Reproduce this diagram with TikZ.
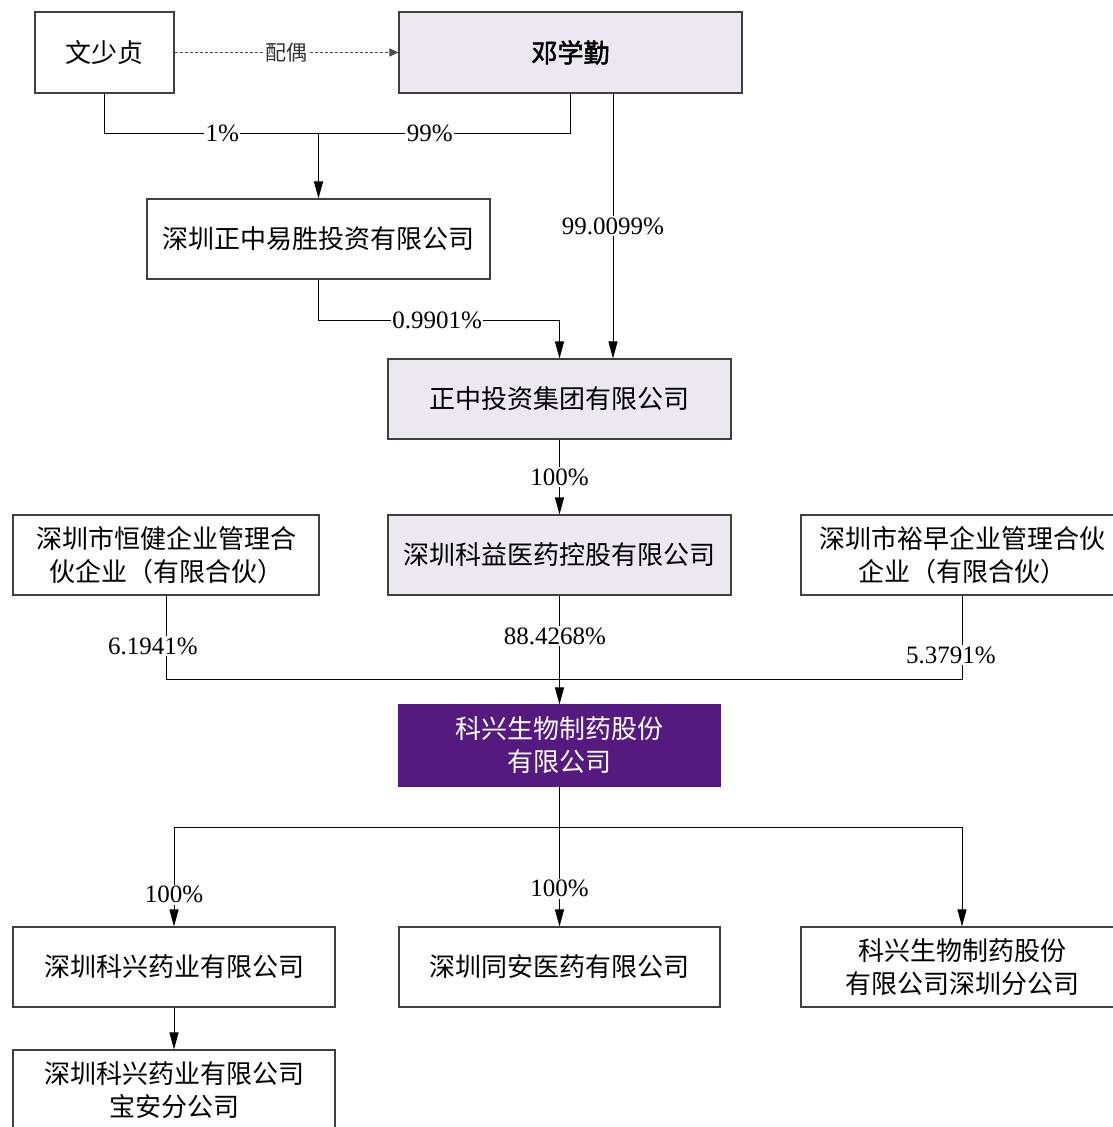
\documentclass[tikz,border=0pt]{standalone}
\usepackage{fontspec}
\setmainfont{Liberation Serif}
\newfontfamily\cjk[AutoFakeBold=2]{Noto Sans CJK SC}
\usetikzlibrary{arrows.meta}
\definecolor{boxgray}{RGB}{235,232,239}
\definecolor{kxpurple}{RGB}{85,26,128}
\tikzset{
  box/.style={draw=black!75, line width=1.1pt, fill=white, align=center,
    font=\cjk\fontsize{26}{33}\selectfont, inner sep=0pt},
  conn/.style={draw=black, line width=1pt},
  arr/.style={conn, -{Triangle[length=17pt,width=9pt]}},
  lbl/.style={fill=white, inner sep=1.5pt, font=\fontsize{25}{28}\selectfont},
  spouse/.style={draw=black!70, line width=0.9pt, dash pattern=on 3pt off 2pt,
    -{Triangle[length=9pt,width=8pt]}}
}
\begin{document}
\begin{tikzpicture}[x=1pt,y=-1pt]
\useasboundingbox (0,0) rectangle (1113,1127);
% nodes
\node[box, minimum width=139pt, minimum height=81pt] (wsz) at (104.5,52.5) {文少贞};
\node[box, fill=boxgray, minimum width=343pt, minimum height=81pt] (dxq) at (570.5,52.5) {\bfseries 邓学勤};
\node[box, minimum width=343pt, minimum height=80pt] (zzys) at (318.5,239) {深圳正中易胜投资有限公司};
\node[box, fill=boxgray, minimum width=343pt, minimum height=80pt] (zztz) at (559.5,399) {正中投资集团有限公司};
\node[box, minimum width=306pt, minimum height=80pt] (hj) at (166,555) {深圳市恒健企业管理合\\伙企业（有限合伙）};
\node[box, fill=boxgray, minimum width=343pt, minimum height=80pt] (ky) at (559.5,555) {深圳科益医药控股有限公司};
\node[box, minimum width=322pt, minimum height=80pt] (yz) at (962,555) {深圳市裕早企业管理合伙\\企业（有限合伙）};
\node[box, draw=kxpurple, fill=kxpurple, text=white, minimum width=321pt, minimum height=81pt] (kx) at (559.5,745.5) {科兴生物制药股份\\有限公司};
\node[box, minimum width=322pt, minimum height=80pt] (kxyy) at (174,967) {深圳科兴药业有限公司};
\node[box, minimum width=321pt, minimum height=80pt] (ta) at (559.5,967) {深圳同安医药有限公司};
\node[box, minimum width=322pt, minimum height=80pt] (fz) at (962,967) {科兴生物制药股份\\有限公司深圳分公司};
\node[box, minimum width=322pt, minimum height=80pt] (ba) at (174,1090) {深圳科兴药业有限公司\\宝安分公司};
% junctions
\coordinate (jA) at (318.5,133);
\coordinate (jB) at (318.5,320);
\coordinate (jC) at (559.5,679);
\coordinate (jD) at (559.5,827);
% spouse
\draw[spouse] (wsz.east) -- node[fill=white, inner sep=1pt, text=black!80, font=\cjk\fontsize{21}{24}\selectfont] {配偶} (dxq.west);
% top level
\draw[conn] (wsz.south) |- node[lbl, pos=0.775] {1\%} (jA);
\draw[conn] (dxq.south) |- node[lbl, pos=0.779] {99\%} (jA);
\draw[arr] (jA) -- (zzys.north);
\draw[arr] ([xshift=42.5pt]dxq.south) -- node[lbl, pos=0.5] {99.0099\%} ([xshift=53.5pt]zztz.north);
\draw[arr] (zzys.south) -- (jB) -| node[lbl, pos=0.246] {0.9901\%} (zztz.north);
\draw[arr] (zztz.south) -- node[lbl] {100\%} (ky.north);
% shareholders of kx
\draw[conn] (hj.south) |- node[lbl, pos=0.304, xshift=-13pt] {6.1941\%} (jC);
\draw[conn] (yz.south) |- node[lbl, pos=0.357, xshift=-11pt] {5.3791\%} (jC);
\draw[arr] (ky.south) -- node[lbl, pos=0.373, xshift=-4.5pt] {88.4268\%} (kx.north);
% subsidiaries
\draw[conn] (kx.south) -- (jD);
\draw[arr] (jD) -| node[lbl, pos=0.84] {100\%} (kxyy.north);
\draw[arr] (jD) -- node[lbl, pos=0.62] {100\%} (ta.north);
\draw[arr] (jD) -| (fz.north);
\draw[arr] (kxyy.south) -- (ba.north);
\end{tikzpicture}
\end{document}
